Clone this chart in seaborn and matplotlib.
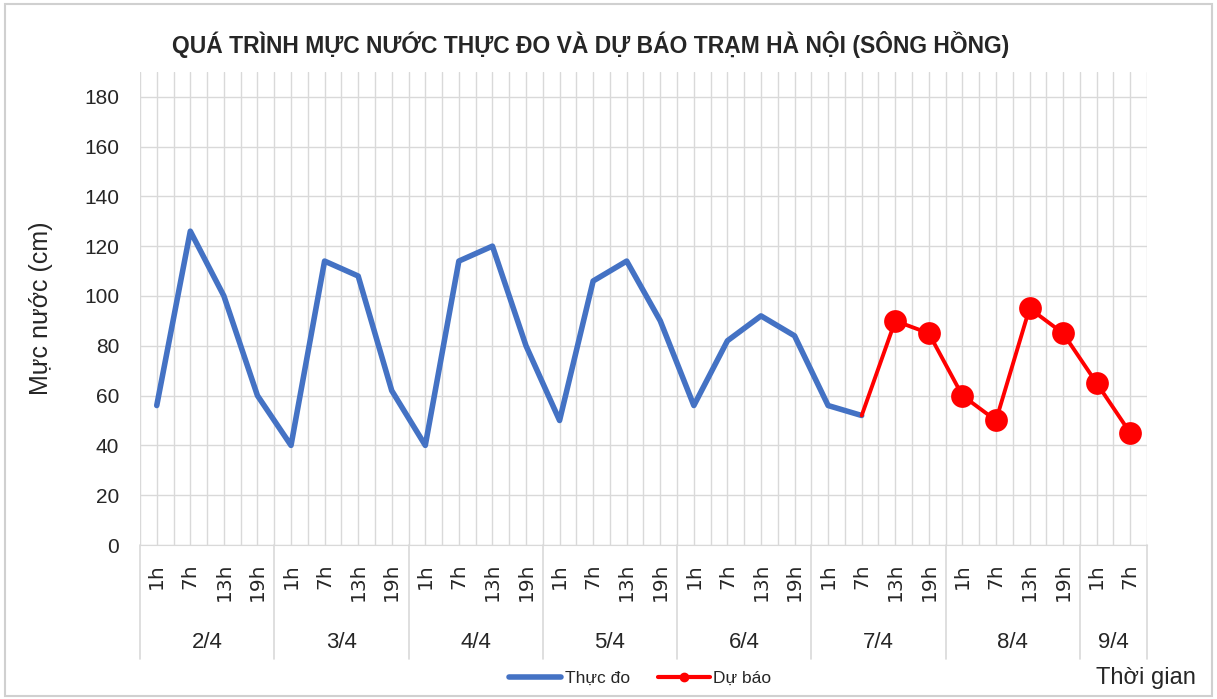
import numpy as np
import pandas as pd
import matplotlib
matplotlib.use("Agg")
import matplotlib.pyplot as plt
import seaborn as sns
from matplotlib.lines import Line2D
from matplotlib.patches import Rectangle

# data
dates = ['2/4', '3/4', '4/4', '5/4', '6/4', '7/4', '8/4', '9/4']
hours_per_day = [['1h', '7h', '13h', '19h']] * 7 + [['1h', '7h']]
observed = [56, 126, 100, 60, 40, 114, 108, 62, 40, 114, 120, 80,
            50, 106, 114, 90, 56, 82, 92, 84, 56, 52]
forecast = [52, 90, 85, 60, 50, 95, 85, 65, 45]
forecast_start = 21   # forecast starts at 7/4 7h

hour_labels = [h for hs in hours_per_day for h in hs]
n = len(hour_labels)

df_obs = pd.DataFrame({'pos': np.arange(len(observed)), 'level': observed})
df_fc = pd.DataFrame({'pos': np.arange(forecast_start, forecast_start + len(forecast)),
                      'level': forecast})

sns.set_style("white")
plt.rcParams['font.family'] = ['Liberation Sans', 'DejaVu Sans']

fig = plt.figure(figsize=(12.17, 6.99), dpi=100)
ax = fig.add_axes([0.115, 0.2203, 0.8275, 0.677])

blue = '#4472c4'
red = '#ff0000'
sns.lineplot(data=df_obs, x='pos', y='level', ax=ax, color=blue, lw=4, legend=False)
sns.lineplot(data=df_fc, x='pos', y='level', ax=ax, color=red, lw=2.8, legend=False)
# markers on forecast (not on the joining point)
sns.scatterplot(data=df_fc.iloc[1:], x='pos', y='level', ax=ax, color=red,
                s=230, edgecolor=red, zorder=5, legend=False)

ax.set_xlim(-0.5, n - 0.5)
ax.set_ylim(0, 190)
ax.set_yticks(range(0, 181, 20))
ax.set_xticks(np.arange(-0.5, n, 0.5))
ax.set_xticklabels([])
ax.tick_params(axis='x', length=0)
ax.tick_params(axis='y', length=0, labelsize=15, pad=15, labelcolor='#262626')
ax.grid(True, color='#d9d9d9', lw=1)
ax.set_axisbelow(True)
for s in ['left', 'right', 'top']:
    ax.spines[s].set_visible(False)
ax.spines['bottom'].set_color('#d9d9d9')
ax.set_xlabel('')
ax.set_ylabel('Mực nước (cm)', fontsize=18)
ax.yaxis.set_label_coords(-0.086, 0.5)

# two level category axis
trans = ax.get_xaxis_transform()
for i, h in enumerate(hour_labels):
    ax.text(i, -0.038, h, transform=trans, rotation=90, ha='center', va='top',
            fontsize=14.5, family=['DejaVu Sans'], color='#262626')
start = 0
bounds = [-0.5]
for d, hs in zip(dates, hours_per_day):
    mid = start + (len(hs) - 1) / 2
    ax.text(mid, -0.205, d, transform=trans, ha='center', va='center', fontsize=16,
            color='#262626')
    start += len(hs)
    bounds.append(start - 0.5)
for b in bounds:
    ax.plot([b, b], [0, -0.24], transform=trans, color='#d9d9d9', lw=1.2,
            clip_on=False)

fig.text(0.485, 0.937, 'QUÁ TRÌNH MỰC NƯỚC THỰC ĐO VÀ DỰ BÁO TRẠM HÀ NỘI (SÔNG HỒNG)',
         ha='center', va='center', fontsize=16.5, fontweight='bold')

handles = [Line2D([], [], color=blue, lw=4),
           Line2D([], [], color=red, lw=3, marker='o', markersize=6)]
fig.legend(handles, ['Thực đo', 'Dự báo'], loc='center', bbox_to_anchor=(0.526, 0.03),
           ncol=2, frameon=False, fontsize=12.5, handlelength=3, columnspacing=1.6,
           handletextpad=0.2)
fig.text(0.983, 0.03, 'Thời gian', ha='right', va='center', fontsize=17,
         color='#262626')

fig.patches.append(Rectangle((0.004, 0.004), 0.992, 0.99, transform=fig.transFigure,
                             fill=False, edgecolor='#d0d0d0', lw=1.5))

fig.savefig('out.png', dpi=100)
